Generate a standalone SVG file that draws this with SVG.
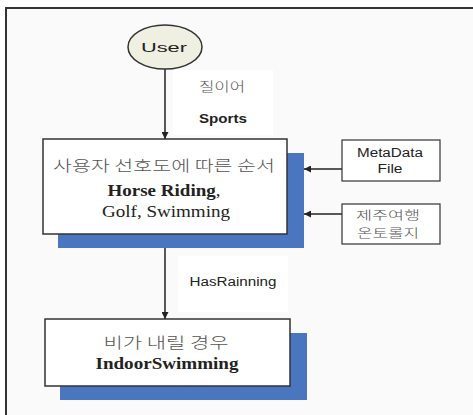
<svg xmlns="http://www.w3.org/2000/svg" width="473" height="415" viewBox="0 0 473 415">
<defs>
<style>
.frame{fill:#fafafa;stroke:#333;stroke-width:2}
.box{fill:#fff;stroke:#333;stroke-width:1.5}
.sbox{fill:#fff;stroke:#333;stroke-width:1.2}
.shadow{fill:#4a76c0}
.lbl{fill:#fff}
.edge{stroke:#222;stroke-width:1.5;fill:none}
.sans{font-family:"Liberation Sans","Noto Sans CJK KR",sans-serif;fill:#222}
.kr{font-family:"Noto Sans CJK KR",sans-serif;fill:#555;font-weight:300}
.ser{font-family:"Liberation Serif","Noto Sans CJK KR",serif;fill:#222}
</style>
<marker id="ah" viewBox="0 0 10 10" refX="10" refY="5" markerWidth="7" markerHeight="7" markerUnits="userSpaceOnUse" orient="auto"><path d="M0,0 L10,5 L0,10 z" fill="#222"/></marker>
</defs>
<rect x="6" y="8" width="470" height="410" class="frame"/>
<rect x="173" y="70" width="100" height="65" class="lbl"/>
<rect x="178" y="256" width="110" height="56" class="lbl"/>
<g id="connectors">
<line x1="165" y1="69" x2="165" y2="139" class="edge" marker-end="url(#ah)"/>
<line x1="165" y1="234" x2="165" y2="319" class="edge" marker-end="url(#ah)"/>
<line x1="342" y1="169" x2="304" y2="169" class="edge" marker-end="url(#ah)"/>
<line x1="342" y1="214" x2="304" y2="214" class="edge" marker-end="url(#ah)"/>
</g>
<g id="user">
<ellipse cx="165" cy="47" rx="37" ry="22" fill="#efefe2" stroke="#333" stroke-width="1.5"/>
<text x="164" y="52" text-anchor="middle" font-size="13" class="sans" textLength="46" lengthAdjust="spacingAndGlyphs">User</text>
</g>
<g id="label1">
<text x="222" y="91" text-anchor="middle" font-size="13" class="kr" textLength="46" lengthAdjust="spacingAndGlyphs">질이어</text>
<text x="223" y="123" text-anchor="middle" font-size="13" font-weight="bold" class="sans" textLength="48" lengthAdjust="spacingAndGlyphs">Sports</text>
</g>
<g id="main">
<rect x="58" y="153" width="246" height="95" class="shadow"/>
<rect x="43" y="139" width="244" height="95" class="box"/>
<text x="164" y="171" text-anchor="middle" font-size="15" class="kr" textLength="222" lengthAdjust="spacingAndGlyphs">사용자 선호도에 따른 순서</text>
<text x="164" y="196" text-anchor="middle" font-size="16" class="ser" textLength="113" lengthAdjust="spacingAndGlyphs"><tspan font-weight="bold">Horse Riding</tspan>,</text>
<text x="166" y="217" text-anchor="middle" font-size="16" class="ser" textLength="128" lengthAdjust="spacingAndGlyphs">Golf, Swimming</text>
</g>
<g id="metadata">
<rect x="342" y="140" width="98" height="41" class="sbox"/>
<text x="390" y="157" text-anchor="middle" font-size="12" class="sans" textLength="66" lengthAdjust="spacingAndGlyphs">MetaData</text>
<text x="390" y="173" text-anchor="middle" font-size="12" class="sans" textLength="25" lengthAdjust="spacingAndGlyphs">File</text>
</g>
<g id="ontology">
<rect x="342" y="204" width="98" height="40" class="sbox"/>
<text x="388" y="220" text-anchor="middle" font-size="12" class="kr" textLength="64" lengthAdjust="spacingAndGlyphs">제주여행</text>
<text x="388" y="238" text-anchor="middle" font-size="12" class="kr" textLength="62" lengthAdjust="spacingAndGlyphs">온토롤지</text>
</g>
<g id="label2">
<text x="233" y="286" text-anchor="middle" font-size="12" class="sans" textLength="87" lengthAdjust="spacingAndGlyphs">HasRainning</text>
</g>
<g id="result">
<rect x="60" y="333" width="247" height="67" class="shadow"/>
<rect x="45" y="319" width="245" height="67" class="box"/>
<text x="166" y="348" text-anchor="middle" font-size="15" class="kr" textLength="125" lengthAdjust="spacingAndGlyphs">비가 내릴 경우</text>
<text x="167" y="369" text-anchor="middle" font-size="16" font-weight="bold" class="ser" textLength="143" lengthAdjust="spacingAndGlyphs">IndoorSwimming</text>
</g>
</svg>
